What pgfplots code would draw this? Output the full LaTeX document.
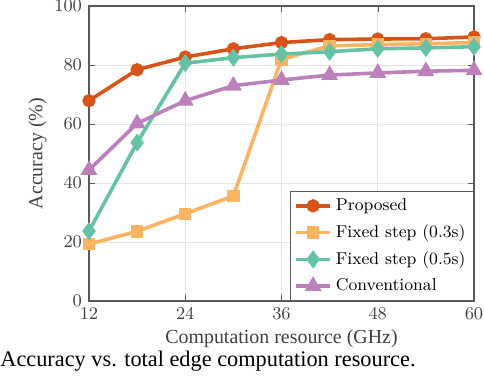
\documentclass[border=0pt]{standalone}
\usepackage{fontspec}
\usepackage{pgfplots}
\pgfplotsset{compat=1.18}
\newfontfamily\tnr{Liberation Serif}
\definecolor{cProp}{HTML}{D95319}
\definecolor{cF03}{HTML}{FDB462}
\definecolor{cF05}{HTML}{66C2A5}
\definecolor{cConv}{HTML}{BC80BD}
\begin{document}
\begin{tikzpicture}
\begin{axis}[
    at={(0,0)}, anchor=south west,
    scale only axis,
    width=192.5bp, height=147.5bp,
    xmin=12, xmax=60, ymin=0, ymax=100,
    xtick={12,24,36,48,60},
    ytick={0,20,40,60,80,100},
    grid=major, grid style={black!10, line width=0.4pt},
    axis line style={black!65, line width=0.6pt},
    tick style={black!65},
    tick align=inside,
    major tick length=3pt,
    ticklabel style={font=\fontsize{8.8}{10}\selectfont, text=black!75},
    xlabel={\tnr Computation resource (GHz)},
    ylabel={\tnr Accuracy (\%)},
    label style={font=\fontsize{10}{12}\selectfont, text=black!75},
    xlabel style={yshift=2pt},
    ylabel style={yshift=-3pt},
    every axis plot/.append style={line width=1.8pt},
    legend style={
        at={(1,0)}, anchor=south east,
        font=\fontsize{8.6}{10}\selectfont,
        draw=black!65, line width=0.5pt,
        legend cell align=left,
        inner xsep=2pt, inner ysep=1.5pt, row sep=1.6pt,
    },
    legend image post style={line width=1.8pt},
]
\addplot[color=cProp, mark=*, mark size=2.4pt, mark options={fill=cProp}] coordinates {
    (12,67.9) (18,78.4) (24,82.7) (30,85.5) (36,87.6) (42,88.6) (48,88.8) (54,88.9) (60,89.5)
};
\addlegendentry{Proposed}
\addplot[color=cF03, mark=square*, mark size=2.2pt, mark options={fill=cF03}] coordinates {
    (12,19.3) (18,23.6) (24,29.6) (30,35.6) (36,81.9) (42,86.5) (48,86.9) (54,87.2) (60,87.6)
};
\addlegendentry{Fixed step (0.3s)}
\addplot[color=cF05, mark=diamond*, mark size=3.1pt, mark options={fill=cF05}] coordinates {
    (12,23.7) (18,53.7) (24,80.6) (30,82.5) (36,83.7) (42,84.5) (48,85.5) (54,85.8) (60,86.2)
};
\addlegendentry{Fixed step (0.5s)}
\addplot[color=cConv, mark=triangle*, mark size=3.1pt, mark options={fill=cConv}] coordinates {
    (12,44.4) (18,60.2) (24,67.9) (30,73.0) (36,74.9) (42,76.6) (48,77.3) (54,77.9) (60,78.2)
};
\addlegendentry{Conventional}
\end{axis}
\node[anchor=base west, inner sep=0pt, font=\tnr\fontsize{11.2}{13}\selectfont] at (-44.5bp,-32.5bp)
    {Accuracy vs. total edge computation resource.};
\pgfresetboundingbox
\path[use as bounding box] (-44.5bp,-43.5bp) rectangle (197.5bp,150.5bp);
\end{tikzpicture}
\end{document}
